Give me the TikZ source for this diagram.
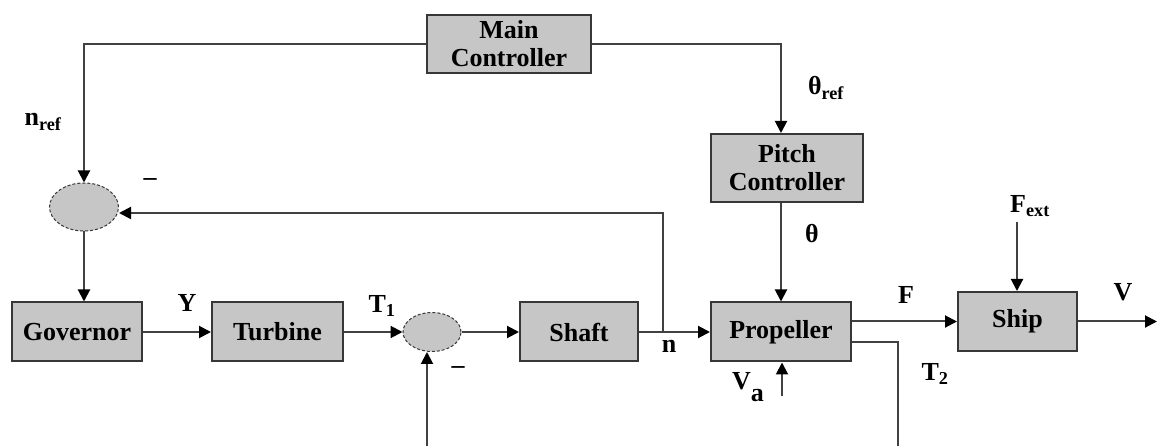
\documentclass[tikz,border=0pt]{standalone}
\usepackage{fontspec}
\setmainfont{Liberation Serif}
\usetikzlibrary{arrows.meta,shapes.geometric,calc}
\definecolor{boxfill}{RGB}{198,198,198}
\definecolor{edgecol}{RGB}{55,55,55}
\definecolor{wirecol}{RGB}{65,65,65}
\begin{document}
\begin{tikzpicture}[x=1pt,y=-1pt,
  font=\fontsize{26}{26}\selectfont\bfseries,
  blk/.style={draw=edgecol,fill=boxfill,line width=2pt,inner sep=0pt,
    minimum height=59pt,align=center},
  sumj/.style={ellipse,draw=edgecol,fill=boxfill,line width=1pt,densely dashed,inner sep=0pt},
  wire/.style={draw=wirecol,line width=2pt},
  sig/.style={wire,-{Triangle[length=12pt,width=12pt,color=black]}},
  lbl/.style={inner sep=0pt}]
% canvas
\fill[white] (0,0) rectangle (1157,446);
\path[use as bounding box] (0,0) rectangle (1157,446);

% blocks
\node[blk,minimum width=164pt,minimum height=58pt] (main) at (509,44) {Main\\[2pt]Controller};
\node[blk,minimum width=152pt,minimum height=68pt] (pitch) at (787,168) {Pitch\\[2pt]Controller};
\node[sumj,minimum width=69pt,minimum height=48pt] (sum1) at (84,207) {};
\node[blk,minimum width=130pt] (gov) at (77,332) {Governor};
\node[blk,minimum width=131pt] (turb) at (277.5,332) {Turbine};
\node[sumj,minimum width=58pt,minimum height=39pt] (sum2) at (432,332) {};
\node[blk,minimum width=118pt] (shaft) at (579,332) {Shaft};
\node[blk,minimum width=140pt] (prop) at (781,332) {Propeller};
\node[blk,minimum width=119pt] (ship) at (1017.5,321.5) {Ship};

% free ends and bends
\coordinate (jn) at (663,332);
\coordinate (fb) at (663,213);
\coordinate (t2c) at (898,342);
\coordinate (t2end) at (898,446);
\coordinate (fbbot) at (427,446);
\coordinate (va) at (782,396);
\coordinate (fext) at (1017,222);
\coordinate (vout) at (1157,321.5);

% connectors
\draw[sig] (main.west) -| (sum1.north);
\draw[sig] (main.east) -| (pitch.north -| prop.north);
\draw[sig] (pitch.south -| prop.north) -- (prop.north);
\draw[sig] (sum1.south) -- (sum1.south |- gov.north);
\draw[sig] (gov.east) -- (turb.west);
\draw[sig] (turb.east) -- (sum2.west);
\draw[sig] (sum2.east) -- (shaft.west);
\draw[sig] (shaft.east) -- (prop.west);
\draw[sig] (jn) -- (fb) -- (sum1.east |- fb);
\draw[sig] (prop.east |- ship.west) -- (ship.west);
\draw[wire] (prop.east |- t2c) -- (t2c) -- (t2end);
\draw[sig] (fbbot) -- (fbbot |- sum2.south);
\draw[sig] (va) -- (va |- prop.south);
\draw[sig] (fext) -- (fext |- ship.north);
\draw[sig] (ship.east) -- (vout);

% signal labels
\node[lbl] at (43,122) {n\textsubscript{ref}};
\node[lbl] at (826,88) {θ\textsubscript{ref}};
\node[lbl] at (812,234) {θ};
\node[lbl] at (150,182) {–};
\node[lbl] at (187,303) {Y};
\node[lbl] at (382,306) {T\textsubscript{1}};
\node[lbl] at (458,370) {–};
\node[lbl] at (669,346) {n};
\node[lbl] at (748,387) {V\raisebox{-0.45em}{a}};
\node[lbl] at (906,295) {F};
\node[lbl] at (935,374) {T\textsubscript{2}};
\node[lbl] at (1123,292) {V};
\node[lbl] at (1030,206) {F\textsubscript{ext}};
\end{tikzpicture}
\end{document}
